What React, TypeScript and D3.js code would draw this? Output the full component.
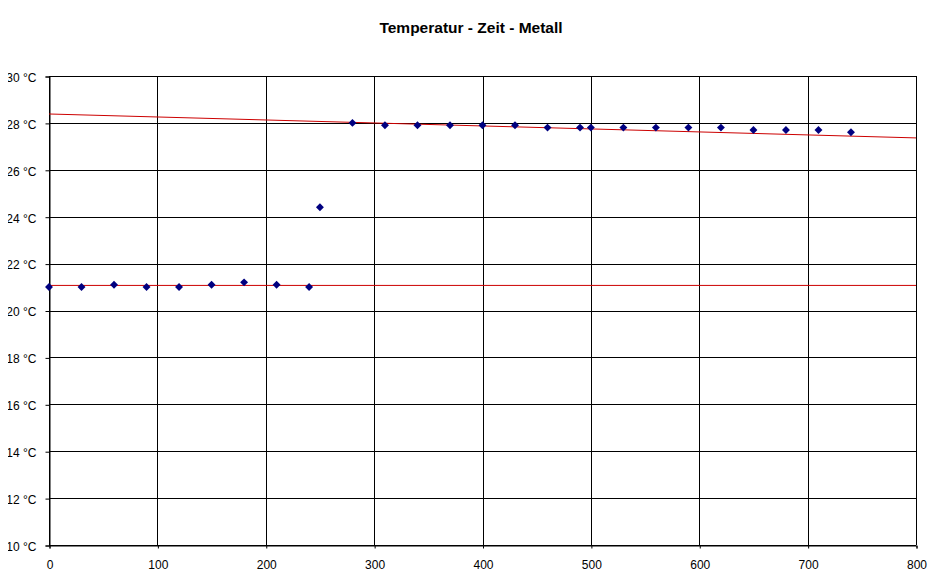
import * as React from 'react';
import * as d3 from 'd3';

// time in seconds, temperature in °C
const times = [0, 30, 60, 90, 120, 150, 180, 210, 240, 250, 280, 310, 340, 370, 400, 430, 460, 490, 500, 530, 560, 590, 620, 650, 680, 710, 740];
const temps = [21.0, 21.0, 21.1, 21.0, 21.0, 21.1, 21.2, 21.1, 21.0, 24.4, 28.0, 27.9, 27.9, 27.9, 27.9, 27.9, 27.8, 27.8, 27.8, 27.8, 27.8, 27.8, 27.8, 27.7, 27.7, 27.7, 27.6];

// trend lines (start / end)
const trendX = [0, 800];
const trendLow = [21.07, 21.07];
const trendHigh = [28.38, 27.36];

const xTicks = [0, 100, 200, 300, 400, 500, 600, 700, 800];
const yTicks = [10, 12, 14, 16, 18, 20, 22, 24, 26, 28, 30];

const svgWidth = 941;
const svgHeight = 586;
const margins = { top: 76, right: 25, bottom: 41, left: 49 };

export default function App() {
  const ref = React.useRef<SVGSVGElement>(null);

  React.useEffect(() => {
    const svg = d3.select(ref.current);
    svg.selectAll('*').remove();
    const width = svgWidth - margins.left - margins.right;
    const height = svgHeight - margins.top - margins.bottom;

    const x = d3.scaleLinear().domain([0, 800]).range([0, width]);
    const y = d3.scaleLinear().domain([10, 30]).range([height, 0]);

    svg.append('rect').attr('width', svgWidth).attr('height', svgHeight).attr('fill', '#fff');

    svg
      .append('text')
      .attr('x', 471)
      .attr('y', 33)
      .attr('text-anchor', 'middle')
      .attr('font-family', 'Liberation Sans, Arial, sans-serif')
      .attr('font-weight', 'bold')
      .attr('font-size', 15.5)
      .attr('fill', '#000')
      .text('Temperatur - Zeit - Metall');

    const g = svg.append('g').attr('transform', `translate(${margins.left}, ${margins.top})`);

    // grid
    g.append('g')
      .selectAll('line.h')
      .data(yTicks)
      .join('line')
      .attr('x1', 0)
      .attr('x2', width)
      .attr('y1', d => Math.round(y(d)) + 0.5)
      .attr('y2', d => Math.round(y(d)) + 0.5)
      .attr('stroke', '#000')
      .attr('stroke-width', 1);
    g.append('g')
      .selectAll('line.v')
      .data(xTicks)
      .join('line')
      .attr('x1', d => Math.round(x(d)) + 0.5)
      .attr('x2', d => Math.round(x(d)) + 0.5)
      .attr('y1', 0)
      .attr('y2', height)
      .attr('stroke', '#000')
      .attr('stroke-width', 1);

    // axes
    const yAxis = g
      .append('g')
      .attr('transform', 'translate(0.5,0.5)')
      .call(
        d3
          .axisLeft(y)
          .tickValues(yTicks)
          .tickSize(4)
          .tickPadding(9)
          .tickFormat(d => `${d} °C`)
      );
    const xAxis = g
      .append('g')
      .attr('transform', `translate(0.5, ${height + 0.5})`)
      .call(d3.axisBottom(x).tickValues(xTicks).tickSize(3).tickPadding(12).tickFormat(d3.format('d')));
    [yAxis, xAxis].forEach(a => {
      a.select('.domain').attr('stroke', '#000');
      a.selectAll('.tick text')
        .attr('font-family', 'Liberation Sans, Arial, sans-serif')
        .attr('font-size', 12)
        .attr('fill', '#000');
    });
    yAxis.selectAll('.tick text').attr('dy', '0.4em');

    // trend lines
    const line = d3
      .line<number>()
      .x((_, i) => x(trendX[i]))
      .y(d => y(d));
    [trendLow, trendHigh].forEach(t => {
      g.append('path')
        .datum(t)
        .attr('fill', 'none')
        .attr('stroke', '#cc0000')
        .attr('stroke-width', 1)
        .attr('d', line);
    });

    // markers
    const diamond = d3.symbol().type(d3.symbolDiamond2).size(40);
    g.append('g')
      .selectAll('path')
      .data(times)
      .join('path')
      .attr('transform', (d, i) => `translate(${x(d)}, ${y(temps[i])})`)
      .attr('d', diamond)
      .attr('fill', '#000080');
  }, []);

  return (
    <div style={{ margin: -8 }}>
      <svg ref={ref} width={svgWidth} height={svgHeight} style={{ display: 'block' }} />
    </div>
  );
}
